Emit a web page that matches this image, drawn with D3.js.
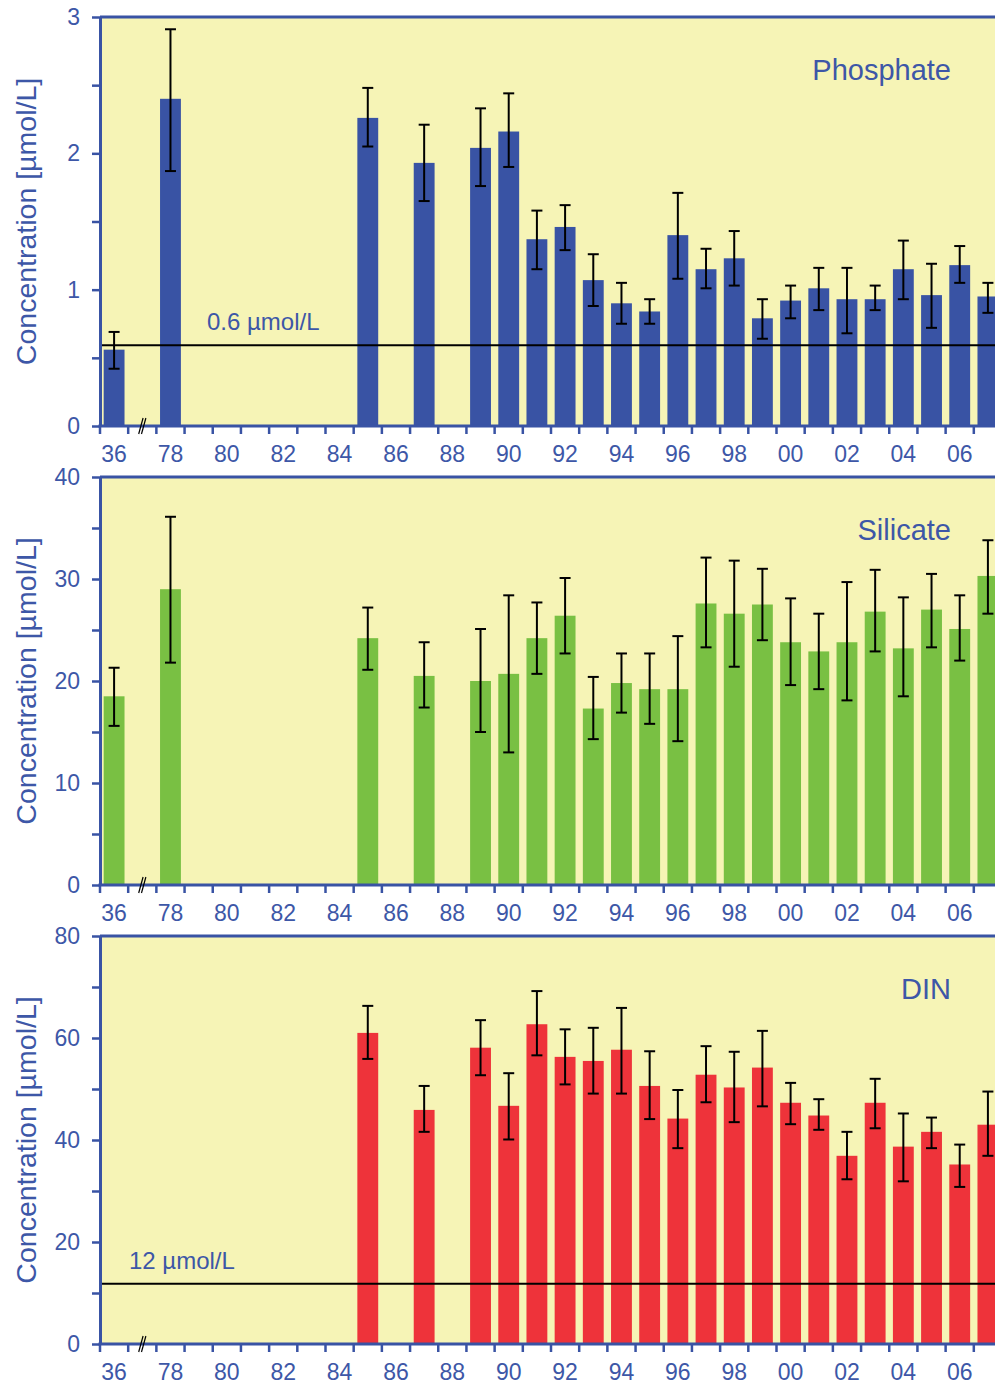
<!DOCTYPE html>
<html>
<head>
<meta charset="utf-8">
<script src="https://cdn.jsdelivr.net/npm/d3@7"></script>
<style>
  html, body { margin: 0; padding: 0; background: #ffffff; }
  svg { display: block; }
  text { font-family: "Liberation Sans", Arial, Helvetica, sans-serif; }
</style>
</head>
<body>
<svg id="chart" width="995" height="1385"></svg>
<script>
// ---------- DATA ----------
const categories = ["36", "gap", "78", "79", "80", "81", "82", "83", "84", "85", "86", "87", "88", "89",
  "90", "91", "92", "93", "94", "95", "96", "97", "98", "99", "00", "01", "02", "03", "04", "05", "06", "07"];
const tickLabels = ["36", "78", "80", "82", "84", "86", "88", "90", "92", "94", "96", "98", "00", "02", "04", "06"];

const phosphateYears = ["36", "78", "85", "87", "89", "90", "91", "92", "93", "94", "95", "96", "97", "98", "99", "00", "01", "02", "03", "04", "05", "06", "07"];
const phosphateMean = [0.56, 2.40, 2.26, 1.93, 2.04, 2.16, 1.37, 1.46, 1.07, 0.90, 0.84, 1.40, 1.15, 1.23, 0.79, 0.92, 1.01, 0.93, 0.93, 1.15, 0.96, 1.18, 0.95];
const phosphateHigh = [0.69, 2.91, 2.48, 2.21, 2.33, 2.44, 1.58, 1.62, 1.26, 1.05, 0.93, 1.71, 1.30, 1.43, 0.93, 1.03, 1.16, 1.16, 1.03, 1.36, 1.19, 1.32, 1.05];
const phosphateLow  = [0.42, 1.87, 2.05, 1.65, 1.76, 1.90, 1.15, 1.29, 0.88, 0.75, 0.75, 1.08, 1.01, 1.03, 0.64, 0.79, 0.85, 0.68, 0.85, 0.93, 0.72, 1.05, 0.83];

const silicateYears = phosphateYears;
const silicateMean = [18.5, 29.0, 24.2, 20.5, 20.0, 20.7, 24.2, 26.4, 17.3, 19.8, 19.2, 19.2, 27.6, 26.6, 27.5, 23.8, 22.9, 23.8, 26.8, 23.2, 27.0, 25.1, 30.3];
const silicateHigh = [21.3, 36.1, 27.2, 23.8, 25.1, 28.4, 27.7, 30.1, 20.4, 22.7, 22.7, 24.4, 32.1, 31.8, 31.0, 28.1, 26.6, 29.7, 30.9, 28.2, 30.5, 28.4, 33.8];
const silicateLow  = [15.6, 21.8, 21.1, 17.4, 15.0, 13.0, 20.7, 22.7, 14.3, 16.9, 15.8, 14.1, 23.3, 21.4, 24.0, 19.6, 19.2, 18.1, 22.9, 18.5, 23.3, 22.0, 26.6];

const dinYears = ["85", "87", "89", "90", "91", "92", "93", "94", "95", "96", "97", "98", "99", "00", "01", "02", "03", "04", "05", "06", "07"];
const dinMean = [61.0, 45.9, 58.1, 46.7, 62.7, 56.3, 55.5, 57.7, 50.6, 44.2, 52.8, 50.3, 54.2, 47.3, 44.8, 36.9, 47.3, 38.7, 41.6, 35.2, 43.0];
const dinHigh = [66.3, 50.6, 63.5, 53.1, 69.2, 61.7, 62.0, 65.9, 57.4, 49.8, 58.4, 57.3, 61.4, 51.2, 48.0, 41.6, 52.0, 45.2, 44.4, 39.1, 49.5];
const dinLow  = [55.9, 41.6, 52.7, 40.1, 56.6, 50.9, 49.1, 49.1, 44.1, 38.4, 47.4, 43.5, 46.6, 43.1, 42.0, 32.3, 42.3, 31.9, 38.4, 30.8, 36.9];

const yMajorPhosphate = [0, 1, 2, 3];
const yMinorPhosphate = [0.5, 1.5, 2.5];
const yMajorSilicate = [0, 10, 20, 30, 40];
const yMinorSilicate = [5, 15, 25, 35];
const yMajorDin = [0, 20, 40, 60, 80];
const yMinorDin = [10, 30, 50, 70];

const panelTitles = ["Phosphate", "Silicate", "DIN"];
const yAxisTitle = "Concentration [µmol/L]";
const phosphateLimit = 0.6, phosphateLimitLabel = "0.6 µmol/L";
const dinLimit = 12, dinLimitLabel = "12 µmol/L";

// ---------- STYLE ----------
const BLUE = "#3953a4";
const TEXT_BLUE = "#3d57a7";
const BG = "#f6f4b6";
const FONT = '"Liberation Sans", Arial, Helvetica, sans-serif';

const svg = d3.select("#chart");
svg.append("rect").attr("width", 995).attr("height", 1385).attr("fill", "#fff");

const x = d3.scaleBand().domain(categories).range([100, 1002]).paddingInner(0.26).paddingOuter(0.13);
const step = x.step();
const boundary = c => x(c) - (step - x.bandwidth()) / 2;

const panels = [
  { title: panelTitles[0], top: 17, bottom: 426, max: 3, major: yMajorPhosphate, minor: yMinorPhosphate,
    years: phosphateYears, mean: phosphateMean, hi: phosphateHigh, lo: phosphateLow, color: "#3953a4",
    limit: phosphateLimit, limitLabel: phosphateLimitLabel, limitX: 207 },
  { title: panelTitles[1], top: 477, bottom: 885, max: 40, major: yMajorSilicate, minor: yMinorSilicate,
    years: silicateYears, mean: silicateMean, hi: silicateHigh, lo: silicateLow, color: "#79c043" },
  { title: panelTitles[2], top: 936, bottom: 1344, max: 80, major: yMajorDin, minor: yMinorDin,
    years: dinYears, mean: dinMean, hi: dinHigh, lo: dinLow, color: "#ee333a",
    limit: dinLimit, limitLabel: dinLimitLabel, limitX: 129 }
];

panels.forEach(p => {
  const g = svg.append("g");
  const y = d3.scaleLinear().domain([0, p.max]).range([p.bottom, p.top]);
  const left = 100, right = 1002;

  // background
  g.append("rect").attr("x", left).attr("y", p.top).attr("width", right - left).attr("height", p.bottom - p.top)
    .attr("fill", BG);

  // bars
  const data = p.years.map((yr, i) => ({ yr, v: p.mean[i], hi: p.hi[i], lo: p.lo[i] }));
  g.selectAll("rect.bar").data(data).enter().append("rect").attr("class", "bar")
    .attr("x", d => x(d.yr)).attr("width", x.bandwidth())
    .attr("y", d => y(d.v)).attr("height", d => y(0) - y(d.v))
    .attr("fill", p.color);

  // limit line
  if (p.limit !== undefined) {
    g.append("line").attr("x1", left).attr("x2", right).attr("y1", y(p.limit) + 1).attr("y2", y(p.limit) + 1)
      .attr("stroke", "#000").attr("stroke-width", 2);
    g.append("text").attr("x", p.limitX).attr("y", y(p.limit) - 14).attr("fill", TEXT_BLUE)
      .attr("font-size", 24).text(p.limitLabel);
  }

  // error bars
  const eb = g.selectAll("g.err").data(data).enter().append("g").attr("class", "err")
    .attr("stroke", "#000").attr("stroke-width", 2);
  const cx = d => x(d.yr) + x.bandwidth() / 2;
  eb.append("line").attr("x1", cx).attr("x2", cx).attr("y1", d => y(d.hi)).attr("y2", d => y(d.lo));
  eb.append("line").attr("x1", d => cx(d) - 5.5).attr("x2", d => cx(d) + 5.5).attr("y1", d => y(d.hi)).attr("y2", d => y(d.hi));
  eb.append("line").attr("x1", d => cx(d) - 5.5).attr("x2", d => cx(d) + 5.5).attr("y1", d => y(d.lo)).attr("y2", d => y(d.lo));

  // title
  g.append("text").attr("x", 951).attr("y", p.top + 63).attr("text-anchor", "end")
    .attr("fill", TEXT_BLUE).attr("font-size", 29).text(p.title);

  // top border
  g.append("line").attr("x1", left).attr("x2", right).attr("y1", p.top).attr("y2", p.top)
    .attr("stroke", BLUE).attr("stroke-width", 3);

  // y axis
  const yAxis = d3.axisLeft(y).tickValues(p.major.concat(p.minor)).tickSize(8).tickSizeOuter(0).tickPadding(12)
    .tickFormat(v => p.major.includes(v) ? String(v) : "");
  const ya = g.append("g").attr("transform", `translate(${left},0)`).call(yAxis);
  ya.select(".domain").attr("stroke", BLUE).attr("stroke-width", 3);
  ya.selectAll(".tick line").attr("stroke", BLUE).attr("stroke-width", 2.5);
  ya.selectAll(".tick text").attr("fill", TEXT_BLUE).attr("font-size", 23).attr("font-family", FONT);

  // x axis line
  g.append("line").attr("x1", left - 1.5).attr("x2", right).attr("y1", p.bottom).attr("y2", p.bottom)
    .attr("stroke", BLUE).attr("stroke-width", 3);
  // x ticks at band boundaries
  g.selectAll("line.xt").data(categories).enter().append("line").attr("class", "xt")
    .attr("x1", c => boundary(c)).attr("x2", c => boundary(c))
    .attr("y1", p.bottom).attr("y2", p.bottom + 8)
    .attr("stroke", BLUE).attr("stroke-width", 2.5);
  // x labels
  const xAxis = d3.axisBottom(x).tickValues(tickLabels).tickSize(0).tickPadding(20);
  const xa = g.append("g").attr("transform", `translate(0,${p.bottom})`).call(xAxis);
  xa.select(".domain").remove();
  xa.selectAll(".tick text").attr("fill", TEXT_BLUE).attr("font-size", 23).attr("font-family", FONT);

  // break mark
  const gx = x("gap") + x.bandwidth() / 2;
  [-1.4, 1.4].forEach(o => {
    g.append("line").attr("x1", gx + o - 2.2).attr("x2", gx + o + 2.2)
      .attr("y1", p.bottom + 8).attr("y2", p.bottom - 8)
      .attr("stroke", "#000").attr("stroke-width", 1.2);
  });

  // y title
  g.append("text").attr("transform", `translate(36,${(p.top + p.bottom) / 2}) rotate(-90)`)
    .attr("text-anchor", "middle").attr("fill", TEXT_BLUE).attr("font-size", 28.5).text(yAxisTitle);
});
</script>
</body>
</html>
